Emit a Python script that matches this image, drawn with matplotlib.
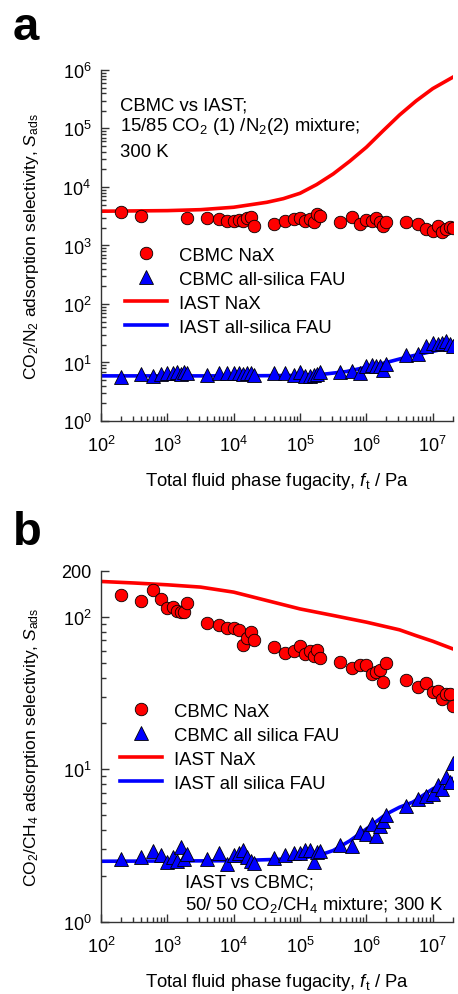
import numpy as np
import matplotlib
matplotlib.use('Agg')
import matplotlib.pyplot as plt
from matplotlib.ticker import FixedLocator, NullFormatter, LogLocator

#DATA===================================================================
# -- panel a: CO2/N2, CBMC points
fA_NaX = [2e2, 4e2,
          2e3, 4e3, 6e3, 8e3, 1e4, 1.2e4, 1.4e4, 1.6e4, 1.8e4, 2e4,
          4e4, 6e4, 8e4, 1e5, 1.2e5, 1.4e5, 1.6e5, 1.8e5, 2e5,
          4e5, 6e5, 8e5, 1e6, 1.2e6, 1.4e6, 1.6e6, 1.8e6, 2e6,
          4e6, 6e6, 8e6, 1e7, 1.2e7, 1.4e7, 1.6e7, 1.8e7, 2e7]
sA_NaX = [3690, 3160,
          2950, 2950, 2840, 2650, 2650, 2760, 2650, 2920, 3030, 2180,
          2330, 2650, 2840, 2920, 2650, 2840, 2550, 3450, 3230,
          2480, 3030, 2330, 2760, 2650, 2920, 2550, 2180, 2480,
          2510, 2330, 1910, 1740, 2130, 1680, 1910, 2050, 1950]

fA_FAU = [2e2, 4e2, 6e2, 8e2, 1e3, 1.2e3, 1.4e3, 1.6e3, 1.8e3, 2e3,
          4e3, 6e3, 8e3, 1e4, 1.2e4, 1.4e4, 1.6e4, 1.8e4, 2e4,
          4e4, 6e4, 8e4, 1e5, 1.2e5, 1.4e5, 1.6e5, 1.8e5, 2e5,
          4e5, 6e5, 8e5, 1e6, 1.2e6, 1.4e6, 1.6e6, 1.8e6, 2e6,
          4e6, 6e6, 8e6, 1e7, 1.2e7, 1.4e7, 1.6e7, 1.8e7, 2e7]
sA_FAU = [5.7, 6.4, 5.8, 6.3, 6.6, 6.5, 6.8, 6.4, 6.9, 6.7,
          6.2, 6.7, 6.7, 6.6, 6.5, 6.3, 6.6, 6.5, 6.1,
          6.5, 6.5, 6.2, 6.8, 5.8, 5.9, 6.2, 6.4, 6.8,
          6.9, 7.2, 6.5, 8.6, 9.0, 8.8, 8.6, 7.4, 9.4,
          13.5, 14.0, 19.5, 21.5, 20.5, 21.5, 23.0, 21.0, 19.0]

# -- panel a: IAST curves
fA_iastN   = [1e2, 1e3, 3.16e3, 1e4, 3.16e4, 5.6e4, 1e5, 1.78e5, 3.16e5, 5.6e5,
              1e6, 1.78e6, 3.16e6, 5.6e6, 1e7, 2e7]
sA_iastNaX = [3850, 3940, 4090, 4500, 5470, 6310, 7800, 11000, 16700, 27500,
              47800, 91000, 170000, 295000, 480000, 750000]
fA_iastF   = [1e2, 1e4, 1e5, 2e5, 5e5, 1e6, 2e6, 4e6, 1e7, 2e7]
sA_iastFAU = [5.9, 5.9, 6.0, 6.2, 7.0, 8.3, 10.0, 12.3, 15.5, 18.2]

# -- panel b: CO2/CH4, CBMC points
fB = [2e2, 4e2, 6e2, 8e2, 1e3, 1.2e3, 1.4e3, 1.6e3, 1.8e3, 2e3,
      4e3, 6e3, 8e3, 1e4, 1.2e4, 1.4e4, 1.6e4, 1.8e4, 2e4,
      4e4, 6e4, 8e4, 1e5, 1.2e5, 1.4e5, 1.6e5, 1.8e5, 2e5,
      4e5, 6e5, 8e5, 1e6, 1.2e6, 1.4e6, 1.6e6, 1.8e6, 2e6,
      4e6, 6e6, 8e6, 1e7, 1.2e7, 1.4e7, 1.6e7, 1.8e7, 2e7]
sB_NaX = [139, 127, 149, 130, 114, 116, 110, 108, 108, 124,
          91.4, 89, 84.4, 84.4, 82.2, 65.5, 72.5, 79.4, 71,
          63.3, 57.8, 60.1, 64.8, 57.2, 59.3, 55.7, 61, 53.8,
          50.9, 46.1, 48, 48, 42.3, 43.4, 44.5, 37.3, 49.9,
          38.8, 34.6, 36.9, 32.4, 32.9, 29, 31.3, 31.3, 26.2]
sB_FAU = [2.59, 2.66, 2.94, 2.75, 2.48, 2.66, 2.52, 3.09, 2.59, 2.79,
          2.59, 2.83, 2.40, 2.75, 2.83, 2.98, 2.66, 2.52, 2.44,
          2.61, 2.75, 2.83, 2.83, 2.98, 2.98, 2.46, 2.86, 2.94,
          3.20, 3.17, 3.87, 3.78, 4.39, 3.65, 4.28, 4.61, 5.03,
          5.74, 6.41, 6.73, 6.90, 7.91, 7.45, 8.89, 8.24, 11.0]

# -- panel b: IAST curves
fB_iastN   = [1e2, 3.16e2, 1e3, 3.16e3, 1e4, 3.16e4, 1e5, 3.16e5, 1e6, 3.16e6,
              5.6e6, 1e7, 2e7]
sB_iastNaX = [170.6, 166.7, 162.2, 156.7, 145.2, 127.9, 112.7, 102.1, 92.3, 82.2,
              75.3, 69.2, 61.7]
fB_iastF   = [1e2, 1e4, 1e5, 2e5, 3.16e5, 5.6e5, 1e6, 2e6, 3.16e6, 5e6, 1e7, 2e7]
sB_iastFAU = [2.5, 2.52, 2.6, 2.75, 2.94, 3.4, 4.07, 5.1, 5.65, 6.1, 7.45, 8.7]

#STYLE==================================================================
plt.rcParams['font.family'] = ['Liberation Sans', 'DejaVu Sans']
plt.rcParams['mathtext.fontset'] = 'custom'
plt.rcParams['mathtext.rm'] = 'Liberation Sans'
plt.rcParams['mathtext.it'] = 'Liberation Sans:italic'
plt.rcParams['font.size'] = 13

fsTick = 13.0                                                           #tick labels
fsLab  = 13.3                                                           #x axis label
fsYLab = 12.5                                                           #y axis label
fsLeg  = 13.3                                                           #legend
fsNote = 13.3                                                           #annotations

axCol = '#333333'
red   = '#ff0000'
blue  = '#0000ff'

fig = plt.figure(figsize=(4.58, 9.95), dpi=100)
axA = fig.add_axes([0.2205, 0.5759, 0.768, 0.3528])
axB = fig.add_axes([0.2205, 0.0724, 0.768, 0.3528])


def styleAxis(ax):
    """ common log-log axis styling"""
    ax.set_xscale('log')
    ax.set_yscale('log')
    ax.set_xlim(1e2, 2e7)
    for s in ['top', 'right']:
        ax.spines[s].set_visible(False)
    for s in ['left', 'bottom']:
        ax.spines[s].set_color(axCol)
        ax.spines[s].set_linewidth(1.0)
    ax.tick_params(which='both', direction='in', colors=axCol, labelcolor='k',
                   width=1.0, labelsize=fsTick)
    ax.tick_params(which='major', length=6, pad=7)
    ax.tick_params(axis='x', which='major', pad=10)
    ax.tick_params(which='minor', length=3.5)
    ax.xaxis.set_major_locator(FixedLocator([1e2, 1e3, 1e4, 1e5, 1e6, 1e7]))
    ax.xaxis.set_minor_locator(LogLocator(base=10, subs=np.arange(2, 10)))
    ax.xaxis.set_minor_formatter(NullFormatter())
    ax.set_xticklabels([r'10$^{%d}$' % e for e in range(2, 8)])
    ax.set_xlabel(r'Total fluid phase fugacity, $f_{\rm t}$ / Pa', fontsize=fsLab)
    ax.xaxis.set_label_coords(0.5, -0.14)


def drawSeries(ax, fN, sN, fF, sF, fIN, sIN, fIF, sIF):
    ax.plot(fIN, sIN, '-', color=red, lw=2.6, zorder=2)
    ax.plot(fIF, sIF, '-', color=blue, lw=2.6, zorder=2)
    ax.plot(fN, sN, 'o', ms=9, mfc=red, mec='k', mew=0.6, zorder=3)
    ax.plot(fF, sF, '^', ms=9.5, mfc=blue, mec='k', mew=0.6, zorder=3)
    # -- legend handles
    hN, = ax.plot([], [], 'o', ms=9, mfc=red, mec='k', mew=0.6)
    hF, = ax.plot([], [], '^', ms=9.5, mfc=blue, mec='k', mew=0.6)
    hIN, = ax.plot([], [], '-', color=red, lw=2.6)
    hIF, = ax.plot([], [], '-', color=blue, lw=2.6)
    return [hN, hF, hIN, hIF]


# PANEL A================================================================
styleAxis(axA)
axA.set_ylim(1, 1e6)
axA.yaxis.set_major_locator(FixedLocator([10.0**e for e in range(0, 7)]))
axA.yaxis.set_minor_locator(LogLocator(base=10, subs=np.arange(2, 10)))
axA.yaxis.set_minor_formatter(NullFormatter())
axA.set_yticklabels([r'10$^{%d}$' % e for e in range(0, 7)])
hA = drawSeries(axA, fA_NaX, sA_NaX, fA_FAU, sA_FAU,
                fA_iastN, sA_iastNaX, fA_iastF, sA_iastFAU)
axA.legend(hA, ['CBMC NaX', 'CBMC all-silica FAU', 'IAST NaX', 'IAST all-silica FAU'],
           loc='upper left', bbox_to_anchor=(0.068, 0.497), frameon=False,
           borderpad=0, borderaxespad=0, handlelength=2.3, handletextpad=0.65,
           labelspacing=0.38, fontsize=fsLeg)
axA.set_ylabel(r'CO$_2$/N$_2$ adsorption selectivity, $S_{\rm ads}$', fontsize=fsYLab)
axA.yaxis.set_label_coords(-0.17, 0.5)
axA.text(0.054, 0.886, 'CBMC vs IAST;', transform=axA.transAxes, fontsize=fsNote)
axA.text(0.054, 0.829, r'15/85 CO$_2$ (1) /N$_2$(2) mixture;', transform=axA.transAxes,
         fontsize=fsNote)
axA.text(0.054, 0.755, '300 K', transform=axA.transAxes, fontsize=fsNote)

# PANEL B================================================================
styleAxis(axB)
axB.set_ylim(1, 200)
axB.yaxis.set_major_locator(FixedLocator([1, 10, 100, 200]))
axB.yaxis.set_minor_locator(FixedLocator([2, 3, 4, 5, 6, 7, 8, 9,
                                          20, 30, 40, 50, 60, 70, 80, 90]))
axB.yaxis.set_minor_formatter(NullFormatter())
axB.set_yticklabels([r'10$^{0}$', r'10$^{1}$', r'10$^{2}$', '200'])
hB = drawSeries(axB, fB, sB_NaX, fB, sB_FAU,
                fB_iastN, sB_iastNaX, fB_iastF, sB_iastFAU)
axB.legend(hB, ['CBMC NaX', 'CBMC all silica FAU', 'IAST NaX', 'IAST all silica FAU'],
           loc='upper left', bbox_to_anchor=(0.054, 0.625), frameon=False,
           borderpad=0, borderaxespad=0, handlelength=2.3, handletextpad=0.65,
           labelspacing=0.38, fontsize=fsLeg)
axB.set_ylabel(r'CO$_2$/CH$_4$ adsorption selectivity, $S_{\rm ads}$', fontsize=fsYLab)
axB.yaxis.set_label_coords(-0.17, 0.5)
axB.text(0.239, 0.0997, 'IAST vs CBMC;', transform=axB.transAxes, fontsize=fsNote)
axB.text(0.239, 0.037, r'50/ 50 CO$_2$/CH$_4$ mixture; 300 K', transform=axB.transAxes,
         fontsize=fsNote)

# -- panel letters
fig.text(13/458, 1-40/995, 'a', fontsize=34, fontweight='bold')
fig.text(13/458, 1-545/995, 'b', fontsize=34, fontweight='bold')

fig.savefig('out.png', dpi=100)
